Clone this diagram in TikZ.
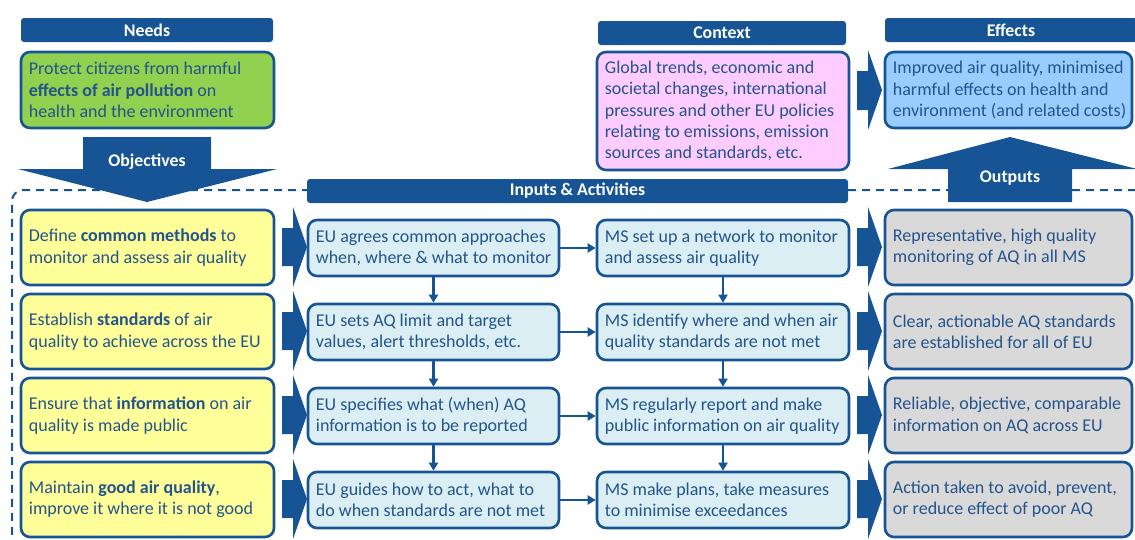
\documentclass[tikz,border=0pt]{standalone}
\usepackage{fontspec}
\setmainfont{Carlito}
\usetikzlibrary{arrows.meta}
\definecolor{dblue}{RGB}{22,84,150}
\definecolor{tblue}{RGB}{36,84,140}
\definecolor{cyellow}{RGB}{255,255,153}
\definecolor{ccyan}{RGB}{218,238,243}
\definecolor{cgray}{RGB}{217,217,217}
\definecolor{cgreen}{RGB}{146,208,80}
\definecolor{cpink}{RGB}{255,204,255}
\definecolor{clblue}{RGB}{153,204,255}
\tikzset{
  boxs/.style={draw=dblue, line width=2.6pt, rounded corners=9pt, inner sep=0pt},
  txt/.style={text=tblue, align=left, inner sep=0pt, font=\fontsize{18}{21.3}\selectfont},
  hdr/.style={fill=dblue, rounded corners=3pt, inner sep=0pt, text=white, font=\fontsize{17.8}{20}\selectfont\bfseries},
  conn/.style={draw=dblue, line width=2.4pt, -{Triangle[length=8pt,width=9pt]}},
  blockarrow/.style={fill=dblue},
  dashbox/.style={draw=dblue, line width=2pt, dash pattern=on 8pt off 6pt, rounded corners=11pt}
}
% name, x1, y1, x2, y2, fill, text
\newcommand\mybx[7]{%
  \node[boxs, fill=#6, minimum width={#4-#2}, minimum height={#5-#3}] (#1) at ({(#2+#4)/2},{(#3+#5)/2}) {};
  \node[txt, anchor=west] (#1t) at ([xshift=9pt]#1.west) {#7};}
\newcommand\myhdr[6]{%
  \node[hdr, minimum width={#4-#2}, minimum height={#5-#3}] (#1) at ({(#2+#4)/2},{(#3+#5)/2}) {#6};}
\begin{document}
\begin{tikzpicture}[x=1pt,y=-1pt]
\useasboundingbox (0,0) rectangle (1135,539);
% dashed frame
\draw[dashbox] (1150,190) -- (12,190) -- (12,560);
% headers
\myhdr{hneeds}{21}{18}{273}{42}{Needs}
\myhdr{hcontext}{598}{21}{846}{45}{Context}
\myhdr{heffects}{885}{18}{1137}{42}{Effects}
\myhdr{hinputs}{307}{179}{848}{203}{Inputs \& Activities}
% top boxes
\mybx{needs}{21}{52}{274}{128}{cgreen}{Protect citizens from harmful\\\textbf{effects of air pollution} on\\health and the environment}
\mybx{context}{597}{52}{849}{170}{cpink}{Global trends, economic and\\societal changes, international\\pressures and other EU policies\\relating to emissions, emission\\sources and standards, etc.}
\mybx{effects}{885}{52}{1132}{128}{clblue}{Improved air quality, minimised\\harmful effects on health and\\environment (and related costs)}
% block arrows
\fill[blockarrow] (83,137) -- (211,137) -- (211,169) -- (277,169) -- (147,202) -- (18,169) -- (83,169) -- cycle;
\node[text=white, font=\fontsize{17.8}{20}\selectfont\bfseries] (lobj) at (147,162) {Objectives};
\fill[blockarrow] (1010,137) -- (1137,169) -- (1072,169) -- (1072,202) -- (948,202) -- (948,169) -- (888,169) -- cycle;
\node[text=white, font=\fontsize{17.8}{20}\selectfont\bfseries] (lout) at (1010,178) {Outputs};
\fill[blockarrow] (857,71) -- (868,71) -- (868,50) -- (882,90) -- (868,130) -- (868,110) -- (857,110) -- cycle;
% rows
\foreach \c in {247,331,415,499}{
  \fill[blockarrow] (282,\c-19) -- (293,\c-19) -- (293,\c-40) -- (307,\c) -- (293,\c+40) -- (293,\c+19) -- (282,\c+19) -- cycle;
  \fill[blockarrow] (857,\c-19) -- (868,\c-19) -- (868,\c-40) -- (882,\c) -- (868,\c+40) -- (868,\c+19) -- (857,\c+19) -- cycle;
}
\mybx{obj1}{21}{210}{274}{285}{cyellow}{Define \textbf{common methods} to\\monitor and assess air quality}
\mybx{obj2}{21}{294}{274}{369}{cyellow}{Establish \textbf{standards} of air\\quality to achieve across the EU}
\mybx{obj3}{21}{378}{274}{453}{cyellow}{Ensure that \textbf{information} on air\\quality is made public}
\mybx{obj4}{21}{462}{274}{537}{cyellow}{Maintain \textbf{good air quality},\\improve it where it is not good}
\mybx{eu1}{308}{220}{559}{276}{ccyan}{EU agrees common approaches\\when, where \& what to monitor}
\mybx{eu2}{308}{304}{559}{360}{ccyan}{EU sets AQ limit and target\\values, alert thresholds, etc.}
\mybx{eu3}{308}{388}{559}{444}{ccyan}{EU specifies what (when) AQ\\information is to be reported}
\mybx{eu4}{308}{472}{559}{528}{ccyan}{EU guides how to act, what to\\do when standards are not met}
\mybx{ms1}{597}{220}{849}{276}{ccyan}{MS set up a network to monitor\\and assess air quality}
\mybx{ms2}{597}{304}{849}{360}{ccyan}{MS identify where and when air\\quality standards are not met}
\mybx{ms3}{597}{388}{849}{444}{ccyan}{MS regularly report and make\\public information on air quality}
\mybx{ms4}{597}{472}{849}{528}{ccyan}{MS make plans, take measures\\to minimise exceedances}
\mybx{out1}{885}{210}{1132}{285}{cgray}{Representative, high quality\\monitoring of AQ in all MS}
\mybx{out2}{885}{294}{1132}{369}{cgray}{Clear, actionable AQ standards\\are established for all of EU}
\mybx{out3}{885}{378}{1132}{453}{cgray}{Reliable, objective, comparable\\information on AQ across EU}
\mybx{out4}{885}{462}{1132}{537}{cgray}{Action taken to avoid, prevent,\\or reduce effect of poor AQ}
% connectors
\foreach \i in {1,2,3,4}{ \draw[conn] (eu\i) -- (ms\i); }
\foreach \i/\j in {1/2,2/3,3/4}{
  \draw[conn] (eu\i) -- (eu\j);
  \draw[conn] (ms\i) -- (ms\j);
}
\end{tikzpicture}
\end{document}
